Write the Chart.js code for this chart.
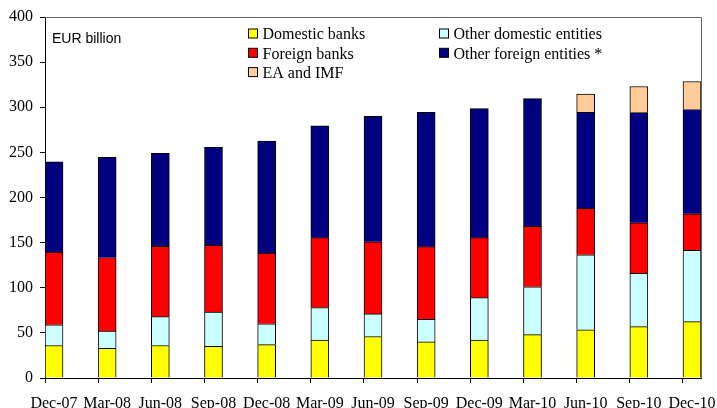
<!DOCTYPE html>
<html>
<head>
<meta charset="utf-8">
<script src="https://cdn.jsdelivr.net/npm/chart.js@4"></script>
<style>
  html, body { margin: 0; padding: 0; background: #fff; }
  #wrap { width: 717px; height: 408px; }
</style>
</head>
<body>
<div id="wrap"><canvas id="chart" width="717" height="408"></canvas></div>
<script>
// quarters on the x axis
const quarters = ['Dec-07', 'Mar-08', 'Jun-08', 'Sep-08', 'Dec-08', 'Mar-09', 'Jun-09',
  'Sep-09', 'Dec-09', 'Mar-10', 'Jun-10', 'Sep-10', 'Dec-10'];

// EUR billion
const domesticBanks = [36, 33, 36, 35, 37, 42, 46, 40, 42, 48, 53.5, 57, 62.5];
const otherDomestic = [23, 19, 32, 38, 23, 36, 25, 25, 47, 53, 83, 59, 79];
const foreignBanks = [80.5, 81.5, 78, 74, 78.5, 77.5, 80, 80.5, 66.5, 67, 51.5, 56, 40.5];
const otherForeign = [100, 111, 103, 108.5, 124, 124, 139, 149, 143, 141.5, 106.5, 122, 115.5];
const eaImf = [null, null, null, null, null, null, null, null, null, null, 20, 29, 31];

const yTicks = { min: 0, max: 400, step: 50 };

const SERIF = '"Liberation Serif", "Times New Roman", serif';
const SANS = '"Liberation Sans", Arial, sans-serif';

// bars sit just right of each tick mark
const SHIFT = 0.1693;

const series = [
  { label: 'Domestic banks', data: domesticBanks, color: '#FFFF00' },
  { label: 'Other domestic entities', data: otherDomestic, color: '#CCFFFF' },
  { label: 'Foreign banks', data: foreignBanks, color: '#FF0000' },
  { label: 'Other foreign entities *', data: otherForeign, color: '#000080' },
  { label: 'EA and IMF', data: eaImf, color: '#FFCC99' }
];

// legend in two columns, drawn inside the plot
const legendPlugin = {
  id: 'boxLegend',
  afterDraw(chart) {
    const ctx = chart.ctx;
    const cols = [
      { x: 248.5, items: ['Domestic banks', 'Foreign banks', 'EA and IMF'] },
      { x: 439.5, items: ['Other domestic entities', 'Other foreign entities *'] }
    ];
    ctx.save();
    ctx.font = '16px ' + SERIF;
    ctx.textBaseline = 'middle';
    ctx.fillStyle = '#000';
    cols.forEach(col => {
      col.items.forEach((name, r) => {
        const ds = chart.data.datasets.find(d => d.label === name);
        const cy = 34 + r * 19.3;
        ctx.fillStyle = ds.backgroundColor;
        ctx.fillRect(col.x, cy - 5, 9, 9);
        ctx.strokeStyle = '#000';
        ctx.lineWidth = 1;
        ctx.strokeRect(col.x, cy - 5, 9, 9);
        ctx.fillStyle = '#000';
        ctx.fillText(name, col.x + 14, cy + 1);
      });
    });
    // unit label
    ctx.font = '14px ' + SANS;
    ctx.fillText('EUR billion', 52, 39);
    ctx.restore();
  }
};

// grey frame on top and right of the plot
const framePlugin = {
  id: 'frame',
  beforeDatasetsDraw(chart) {
    const { ctx, chartArea: a } = chart;
    ctx.save();
    ctx.strokeStyle = '#666';
    ctx.lineWidth = 1;
    ctx.beginPath();
    ctx.moveTo(a.left, a.top + 0.5);
    ctx.lineTo(a.right + 0.5, a.top + 0.5);
    ctx.lineTo(a.right + 0.5, a.bottom);
    ctx.stroke();
    ctx.restore();
  }
};

new Chart(document.getElementById('chart'), {
  type: 'bar',
  data: {
    datasets: series.map(s => ({
      label: s.label,
      data: s.data.map((v, i) => ({ x: i, y: v })),
      backgroundColor: s.color,
      borderColor: '#000',
      borderWidth: 1,
      barThickness: 18
    }))
  },
  options: {
    responsive: false,
    animation: false,
    layout: { padding: { top: 17, right: 16, left: 0, bottom: 0 } },
    plugins: {
      legend: { display: false },
      tooltip: { enabled: false }
    },
    scales: {
      x: {
        type: 'linear',
        stacked: true,
        offset: false,
        min: -SHIFT,
        max: quarters.length - 1 + SHIFT,
        afterBuildTicks: scale => {
          scale.ticks = quarters.map((q, i) => ({ value: i - SHIFT }));
        },
        afterFit: scale => {
          scale.height = 30;
          scale.paddingLeft = 0;
          scale.paddingRight = 0;
        },
        grid: { offset: false, drawOnChartArea: false, drawTicks: true, tickLength: 5, color: '#000' },
        border: { color: '#000', width: 1 },
        ticks: {
          autoSkip: false,
          maxRotation: 0,
          labelOffset: 9,
          padding: 11,
          color: '#000',
          font: { family: SERIF, size: 16 },
          callback: (v, i) => quarters[i]
        }
      },
      y: {
        stacked: true,
        min: yTicks.min,
        max: yTicks.max,
        afterFit: scale => { scale.width = 45; },
        grid: { drawOnChartArea: false, drawTicks: true, tickLength: 5, color: '#000' },
        border: { color: '#000', width: 1 },
        ticks: {
          stepSize: yTicks.step,
          padding: 7,
          color: '#000',
          font: { family: SERIF, size: 16 }
        }
      }
    }
  },
  plugins: [framePlugin, legendPlugin]
});
</script>
</body>
</html>
